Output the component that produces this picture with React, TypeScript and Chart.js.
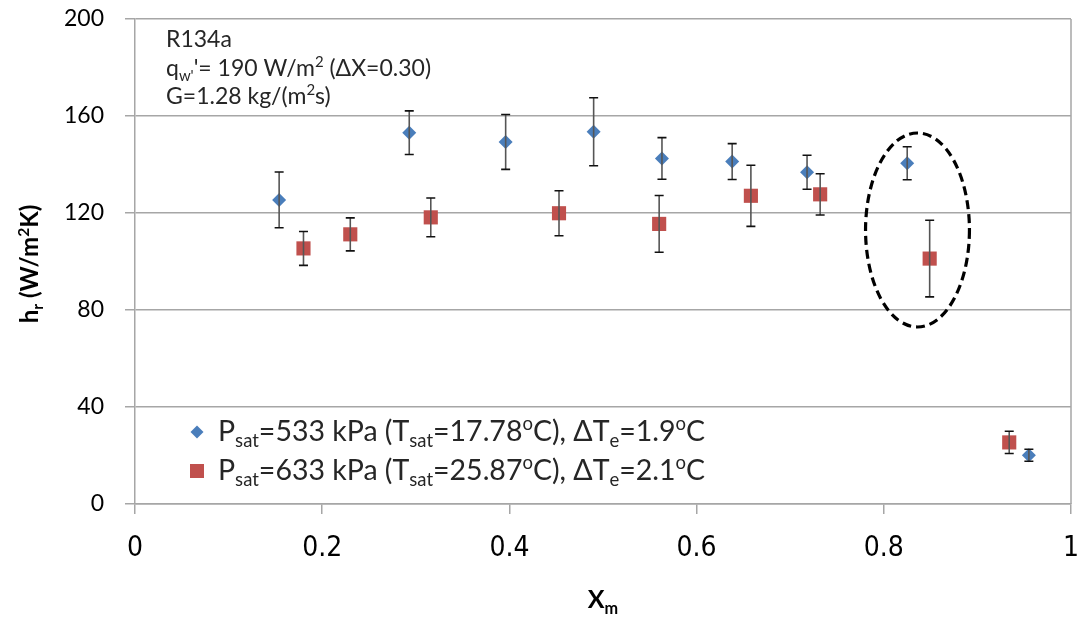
import React, { useEffect, useRef } from 'react';
import { Chart, registerables } from 'chart.js';

Chart.register(...registerables);

// ---- data ----
const blueX = [0.154, 0.293, 0.396, 0.490, 0.563, 0.638, 0.718, 0.825, 0.955];
const blueY = [125.4, 153.1, 149.3, 153.5, 142.5, 141.2, 136.8, 140.5, 20.1];
const blueErr = [11.5, 9.0, 11.3, 14.0, 8.6, 7.4, 7.0, 6.8, 2.5];

const redX = [0.180, 0.230, 0.316, 0.453, 0.560, 0.658, 0.732, 0.849, 0.934];
const redY = [105.4, 111.2, 118.2, 119.9, 115.5, 127.1, 127.7, 101.2, 25.4];
const redErr = [7.0, 6.8, 8.0, 9.3, 11.7, 12.6, 8.5, 15.8, 4.6];

const xTickValues = [0, 0.2, 0.4, 0.6, 0.8, 1];
const yTickValues = [0, 40, 80, 120, 160, 200];

// highlighted region (ellipse) in data units
const ellipseCenter = [0.836, 113];
const ellipseRadii = [0.0555, 40];

type Run = { t: string; m?: 'sub' | 'sup' };

const annotationLines: Run[][] = [
  [{ t: 'R134a' }],
  [{ t: 'q' }, { t: 'w\'', m: 'sub' }, { t: '\'= 190 W/m' }, { t: '2', m: 'sup' }, { t: ' (ΔX=0.30)' }],
  [{ t: 'G=1.28 kg/(m' }, { t: '2', m: 'sup' }, { t: 's)' }],
];

const legendBlue: Run[] = [
  { t: 'P' }, { t: 'sat', m: 'sub' }, { t: '=533 kPa (T' }, { t: 'sat', m: 'sub' }, { t: '=17.78' },
  { t: 'o', m: 'sup' }, { t: 'C), ΔT' }, { t: 'e', m: 'sub' }, { t: '=1.9' }, { t: 'o', m: 'sup' }, { t: 'C' },
];
const legendRed: Run[] = [
  { t: 'P' }, { t: 'sat', m: 'sub' }, { t: '=633 kPa (T' }, { t: 'sat', m: 'sub' }, { t: '=25.87' },
  { t: 'o', m: 'sup' }, { t: 'C), ΔT' }, { t: 'e', m: 'sub' }, { t: '=2.1' }, { t: 'o', m: 'sup' }, { t: 'C' },
];

const yTitle: Run[] = [{ t: 'h' }, { t: 'r', m: 'sub' }, { t: ' (W/m' }, { t: '2', m: 'sup' }, { t: 'K)' }];
const xTitle: Run[] = [{ t: 'X' }, { t: 'm', m: 'sub' }];

const BLUE = '#4A7EBB';
const RED = '#C0504D';
const FONT = 'Lato, "Open Sans", sans-serif';

function runFont(r: Run, size: number, weight: string) {
  const fs = r.m ? size * 0.65 : size;
  return `${weight} ${fs}px ${FONT}`;
}

function measureRuns(ctx: CanvasRenderingContext2D, runs: Run[], size: number, weight: string) {
  let w = 0;
  for (const r of runs) {
    ctx.font = runFont(r, size, weight);
    w += ctx.measureText(r.t).width;
  }
  return w;
}

function drawRuns(ctx: CanvasRenderingContext2D, runs: Run[], x: number, y: number, size: number, weight: string, color: string) {
  ctx.fillStyle = color;
  ctx.textBaseline = 'alphabetic';
  ctx.textAlign = 'left';
  let cx = x;
  for (const r of runs) {
    ctx.font = runFont(r, size, weight);
    const dy = r.m === 'sub' ? size * 0.22 : r.m === 'sup' ? -size * 0.38 : 0;
    ctx.fillText(r.t, cx, y + dy);
    cx += ctx.measureText(r.t).width;
  }
  return cx - x;
}

const overlayPlugin = {
  id: 'overlay',
  afterDatasetsDraw(chart: any) {
    const ctx: CanvasRenderingContext2D = chart.ctx;
    const xs = chart.scales.x;
    const ys = chart.scales.y;
    const area = chart.chartArea;
    ctx.save();

    // right border
    ctx.strokeStyle = '#a6a6a6';
    ctx.lineWidth = 1.5;
    ctx.beginPath();
    ctx.moveTo(area.right, area.top);
    ctx.lineTo(area.right, area.bottom);
    ctx.stroke();

    // error bars
    const drawErr = (X: number[], Y: number[], E: number[]) => {
      for (let i = 0; i < X.length; i++) {
        const px = xs.getPixelForValue(X[i]);
        const pt = ys.getPixelForValue(Y[i] + E[i]);
        const pb = ys.getPixelForValue(Y[i] - E[i]);
        ctx.strokeStyle = '#555555';
        ctx.lineWidth = 1.6;
        ctx.beginPath();
        ctx.moveTo(px, pt);
        ctx.lineTo(px, pb);
        ctx.stroke();
        ctx.strokeStyle = '#111111';
        ctx.lineWidth = 1.6;
        ctx.beginPath();
        ctx.moveTo(px - 4.5, pt);
        ctx.lineTo(px + 4.5, pt);
        ctx.moveTo(px - 4.5, pb);
        ctx.lineTo(px + 4.5, pb);
        ctx.stroke();
      }
    };
    drawErr(blueX, blueY, blueErr);
    drawErr(redX, redY, redErr);

    // ellipse
    const ecx = xs.getPixelForValue(ellipseCenter[0]);
    const ecy = ys.getPixelForValue(ellipseCenter[1]);
    const erx = Math.abs(xs.getPixelForValue(ellipseCenter[0] + ellipseRadii[0]) - ecx);
    const ery = Math.abs(ys.getPixelForValue(ellipseCenter[1] + ellipseRadii[1]) - ecy);
    ctx.strokeStyle = '#000000';
    ctx.lineWidth = 3.2;
    ctx.setLineDash([9, 5]);
    ctx.beginPath();
    ctx.ellipse(ecx, ecy, erx, ery, 0, 0, Math.PI * 2);
    ctx.stroke();
    ctx.setLineDash([]);

    // annotation text
    const annY = [47, 76, 104];
    annotationLines.forEach((runs, i) => drawRuns(ctx, runs, 166, annY[i], 23, 'normal', '#262626'));

    // legend
    const lx = 197;
    const ly1 = 432;
    const ly2 = 471;
    ctx.fillStyle = BLUE;
    ctx.beginPath();
    ctx.moveTo(lx, ly1 - 6.5);
    ctx.lineTo(lx + 6.5, ly1);
    ctx.lineTo(lx, ly1 + 6.5);
    ctx.lineTo(lx - 6.5, ly1);
    ctx.closePath();
    ctx.fill();
    ctx.fillStyle = RED;
    ctx.fillRect(lx - 7, ly2 - 7, 14, 14);
    drawRuns(ctx, legendBlue, 218, ly1 + 9, 28.5, 'normal', '#262626');
    drawRuns(ctx, legendRed, 218, ly2 + 9, 28.5, 'normal', '#262626');

    // axis titles
    const xw = measureRuns(ctx, xTitle, 25, 'bold');
    drawRuns(ctx, xTitle, 603 - xw / 2, 608, 25, 'bold', '#000000');

    ctx.save();
    ctx.translate(38, 264);
    ctx.rotate(-Math.PI / 2);
    const yw = measureRuns(ctx, yTitle, 24, 'bold');
    drawRuns(ctx, yTitle, -yw / 2, 0, 24, 'bold', '#000000');
    ctx.restore();

    ctx.restore();
  },
};

export default function App() {
  const ref = useRef<HTMLCanvasElement | null>(null);

  useEffect(() => {
    if (!ref.current) return;
    const chart = new Chart(ref.current, {
      type: 'scatter',
      data: {
        datasets: [
          {
            label: 'Psat=533 kPa',
            data: blueX.map((x, i) => ({ x, y: blueY[i] })),
            pointStyle: 'rectRot',
            pointRadius: 7,
            backgroundColor: BLUE,
            borderColor: BLUE,
            borderWidth: 0,
          },
          {
            label: 'Psat=633 kPa',
            data: redX.map((x, i) => ({ x, y: redY[i] })),
            pointStyle: 'rect',
            pointRadius: 10,
            backgroundColor: RED,
            borderColor: RED,
            borderWidth: 0,
          },
        ],
      },
      options: {
        responsive: false,
        animation: false,
        layout: { padding: { left: 0, top: 19, right: 14, bottom: 0 } },
        plugins: {
          legend: { display: false },
          tooltip: { enabled: false },
        },
        scales: {
          x: {
            type: 'linear',
            min: 0,
            max: 1,
            afterBuildTicks: (s: any) => { s.ticks = xTickValues.map((v) => ({ value: v })); },
            afterFit: (s: any) => { s.height = 116; s.paddingLeft = 0; s.paddingRight = 0; },
            ticks: {
              padding: 18,
              color: '#000000',
              font: { family: '"Liberation Sans Narrow", "DejaVu Sans Condensed", sans-serif', size: 28 },
              callback: (v: any) => String(Math.round(Number(v) * 10) / 10),
            },
            grid: { drawOnChartArea: false, drawTicks: true, tickLength: 10, color: '#a6a6a6', lineWidth: 1.5 },
            border: { color: '#a6a6a6', width: 1.5 },
          },
          y: {
            type: 'linear',
            min: 0,
            max: 200,
            afterBuildTicks: (s: any) => { s.ticks = yTickValues.map((v) => ({ value: v })); },
            afterFit: (s: any) => { s.width = 135; s.paddingTop = 0; s.paddingBottom = 0; },
            ticks: {
              padding: 21,
              color: '#000000',
              font: { family: FONT, size: 23 },
            },
            grid: { drawOnChartArea: true, drawTicks: true, tickLength: 10, color: '#a6a6a6', lineWidth: 1.5 },
            border: { color: '#a6a6a6', width: 1.5 },
          },
        },
      },
      plugins: [overlayPlugin],
    } as any);
    return () => chart.destroy();
  }, []);

  return (
    <div style={{ position: 'fixed', left: 0, top: 0, width: 1085, height: 620, background: '#ffffff' }}>
      <canvas ref={ref} width={1085} height={620} style={{ width: 1085, height: 620, display: 'block' }} />
    </div>
  );
}
